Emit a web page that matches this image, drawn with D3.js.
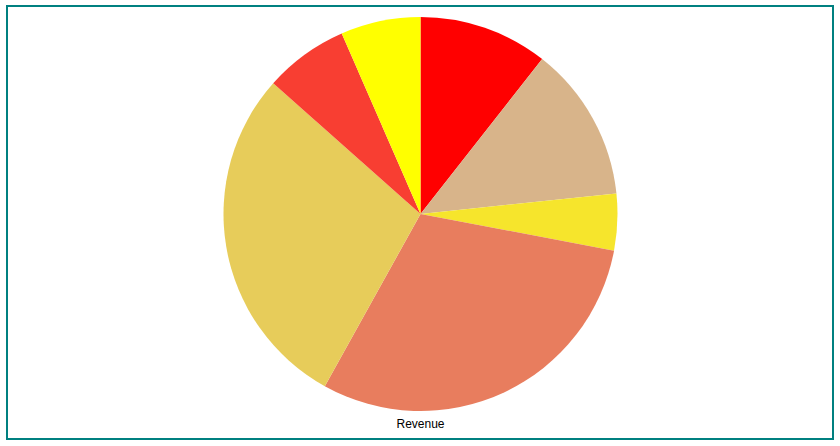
<!DOCTYPE html>
<html><head><meta charset="utf-8">
<script src="https://cdn.jsdelivr.net/npm/d3@7"></script>
<style>html,body{margin:0;padding:0;background:#fff;}svg{display:block;}</style>
</head><body>
<svg id="chart" width="840" height="446"></svg>
<script>
const categories = ["A", "B", "C", "D", "E", "F", "G"];
const values = [10.6, 12.75, 4.65, 30.1, 28.5, 6.9, 6.55];
const colors = ["#FF0000", "#D8B48A", "#F6E52C", "#E87D5E", "#E7CC5A", "#F83E32", "#FFFF00"];
const title = "Revenue";

const svg = d3.select("#chart");
svg.append("rect").attr("x", 7).attr("y", 6).attr("width", 826).attr("height", 433)
  .attr("fill", "none").attr("stroke", "#008080").attr("stroke-width", 2);

const cx = 420.5, cy = 214, r = 197;
const pie = d3.pie().sort(null).value(d => d.v);
const arc = d3.arc().innerRadius(0).outerRadius(r);
const data = categories.map((c, i) => ({c, v: values[i], col: colors[i]}));
const g = svg.append("g").attr("transform", `translate(${cx},${cy})`);
g.selectAll("path").data(pie(data)).join("path")
  .attr("d", arc).attr("fill", d => d.data.col);

svg.append("text").attr("x", cx).attr("y", 428).attr("text-anchor", "middle")
  .attr("font-family", "Liberation Sans, Arial, sans-serif").attr("font-size", 12)
  .attr("fill", "#000").text(title);
</script>
</body></html>
